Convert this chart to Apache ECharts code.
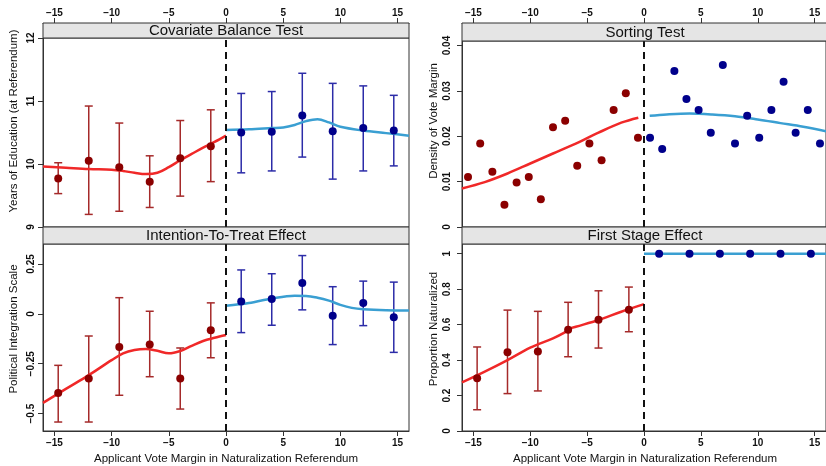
<!DOCTYPE html>
<html>
<head>
<meta charset="utf-8">
<script src="https://cdn.jsdelivr.net/npm/echarts@6/dist/echarts.min.js"></script>
<style>
  html, body { margin: 0; padding: 0; background: #ffffff; }
  #chart { width: 826px; height: 466px; }
</style>
</head>
<body>
<div id="chart"></div>
<script>
// Bin centres of the vote-margin bins (left: below threshold, right: above)
const binLeft = [-14.67, -12, -9.33, -6.67, -4, -1.33];
const binRight = [1.33, 4, 6.67, 9.33, 12, 14.67];

// Covariate balance: years of education
const eduMeanL = [9.77, 10.05, 9.95, 9.72, 10.09, 10.28];
const eduLowL  = [9.53, 9.20, 9.25, 9.31, 9.49, 9.72];
const eduHighL = [10.02, 10.92, 10.65, 10.13, 10.69, 10.86];
const eduMeanR = [10.50, 10.51, 10.77, 10.52, 10.57, 10.53];
const eduLowR  = [9.86, 9.89, 10.11, 9.76, 9.89, 9.97];
const eduHighR = [11.12, 11.15, 11.44, 11.28, 11.24, 11.09];
const eduFitXL = [-16, -14, -12, -10, -9, -8, -7, -6, -5, -4, -3, -2, -1, 0];
const eduFitYL = [9.96, 9.94, 9.92, 9.91, 9.89, 9.86, 9.84, 9.86, 9.95, 10.06, 10.16, 10.26, 10.35, 10.45];
const eduFitXR = [0, 2, 4, 5, 6, 7, 8, 9, 10, 12, 14, 16];
const eduFitYR = [10.54, 10.55, 10.57, 10.58, 10.62, 10.68, 10.71, 10.66, 10.59, 10.53, 10.49, 10.45];

// Intention-to-treat: political integration scale
const ittMeanL = [-0.396, -0.324, -0.166, -0.153, -0.324, -0.082];
const ittLowL  = [-0.542, -0.542, -0.408, -0.315, -0.477, -0.220];
const ittHighL = [-0.258, -0.111, 0.081, 0.013, -0.171, 0.055];
const ittMeanR = [0.062, 0.074, 0.154, -0.010, 0.054, -0.017];
const ittLowR  = [-0.094, -0.057, 0.020, -0.154, -0.059, -0.193];
const ittHighR = [0.220, 0.201, 0.292, 0.136, 0.164, 0.159];
const ittFitXL = [-16, -14, -12, -10, -9, -8, -7, -6, -5, -4, -3, -2, -1, 0];
const ittFitYL = [-0.446, -0.376, -0.307, -0.232, -0.198, -0.181, -0.176, -0.185, -0.198, -0.186, -0.160, -0.136, -0.120, -0.106];
const ittFitXR = [0, 2, 4, 6, 7, 8, 9, 10, 11, 12, 14, 16];
const ittFitYR = [0.040, 0.054, 0.077, 0.091, 0.090, 0.081, 0.066, 0.045, 0.030, 0.023, 0.018, 0.017];

// Sorting test: density of vote margin in narrow bins
const sortBinL = [-15.47, -14.4, -13.33, -12.27, -11.2, -10.13, -9.07, -8, -6.93, -5.87, -4.8, -3.73, -2.67, -1.6, -0.53];
const sortBinR = [0.53, 1.6, 2.67, 3.73, 4.8, 5.87, 6.93, 8, 9.07, 10.13, 11.2, 12.27, 13.33, 14.4, 15.47];
const sortDensL = [0.0110, 0.0184, 0.0122, 0.0049, 0.0098, 0.0110, 0.0061, 0.0220, 0.0234, 0.0135, 0.0184, 0.0147, 0.0258, 0.0295, 0.0197];
const sortDensR = [0.0197, 0.0172, 0.0344, 0.0282, 0.0258, 0.0208, 0.0357, 0.0184, 0.0245, 0.0197, 0.0258, 0.0320, 0.0208, 0.0258, 0.0184];
const sortFitXL = [-16, -14, -12, -10, -8, -6, -4, -2, -0.5];
const sortFitYL = [0.0085, 0.0099, 0.0118, 0.0140, 0.0162, 0.0184, 0.0208, 0.0230, 0.0241];
const sortFitXR = [0.5, 2, 4, 6, 8, 10, 12, 14, 16];
const sortFitYR = [0.0245, 0.0248, 0.0250, 0.0248, 0.0244, 0.0237, 0.0229, 0.0221, 0.0211];

// First stage: proportion naturalized
const fsMeanL = [0.297, 0.444, 0.449, 0.571, 0.628, 0.684];
const fsLowL  = [0.120, 0.211, 0.226, 0.419, 0.468, 0.560];
const fsHighL = [0.474, 0.682, 0.675, 0.726, 0.791, 0.812];
const fsMeanR = [1, 1, 1, 1, 1, 1];
const fsFitXL = [-16, -14, -12, -10, -8, -7, -6.5, -6, -4, -2, 0];
const fsFitYL = [0.274, 0.335, 0.400, 0.470, 0.523, 0.555, 0.578, 0.588, 0.626, 0.673, 0.716];
const fsFitXR = [0, 16];
const fsFitYR = [1, 1];

// Axis ticks and labels
const xTicks = [-15, -10, -5, 0, 5, 10, 15];
const eduTicks = [9, 10, 11, 12];
const ittTicks = [-0.5, -0.25, 0, 0.25];
const sortTicks = [0, 0.01, 0.02, 0.03, 0.04];
const fsTicks = [0, 0.2, 0.4, 0.6, 0.8, 1];

const stripTitles = ['Covariate Balance Test', 'Intention-To-Treat Effect', 'Sorting Test', 'First Stage Effect'];
const yTitles = ['Years of Education (at Referendum)', 'Political Integration Scale', 'Density of Vote Margin', 'Proportion Naturalized'];
const xTitle = 'Applicant Vote Margin in Naturalization Referendum';

// Colours
const RED_PT = '#8b0000', RED_BAR = '#a52a2a', RED_LINE = '#f02828';
const BLUE_PT = '#00008b', BLUE_BAR = '#2c2ca8', BLUE_LINE = '#3a9fd2';
const FRAME = '#333333';

const zip = (xs, ys) => xs.map((x, i) => [x, ys[i]]);
const zip3 = (xs, a, b) => xs.map((x, i) => [x, a[i], b[i]]);
const fmt = v => String(v).replace('-', '\u2212');

// Panel layout (pixels)
const panels = [
  { left: 43,  top: 38,  height: 189, strip: [23, 38],   xTop: true,  ymin: 9,      ymax: 12,     ticks: eduTicks,  lblMargin: 7 },
  { left: 43,  top: 244, height: 187, strip: [227, 244], xTop: false, ymin: -0.587, ymax: 0.35,   ticks: ittTicks,  lblMargin: 7 },
  { left: 462, top: 41,  height: 186, strip: [23, 41],   xTop: true,  ymin: 0,      ymax: 0.0410, ticks: sortTicks, lblMargin: 10 },
  { left: 462, top: 244, height: 187, strip: [227, 244], xTop: false, ymin: 0,      ymax: 1.055,  ticks: fsTicks,   lblMargin: 10 }
];
const PW = 366;

const grid = panels.map(p => ({
  left: p.left, top: p.top, width: PW, height: p.height,
  show: true, borderColor: FRAME, borderWidth: 1, backgroundColor: 'transparent',
  containLabel: false
}));

const xAxis = panels.map((p, i) => ({
  type: 'value', gridIndex: i, min: -16, max: 16,
  position: p.xTop ? 'top' : 'bottom',
  offset: p.xTop ? (p.top - p.strip[0]) : 0,
  axisLine: { show: true, onZero: false, lineStyle: { color: FRAME, width: 1 } },
  axisTick: { show: true, customValues: xTicks, length: 5, lineStyle: { color: FRAME } },
  axisLabel: { show: true, customValues: xTicks, formatter: fmt, margin: p.xTop ? 5 : 7,
               fontFamily: 'Liberation Sans', fontSize: 10, fontWeight: 'bold', color: '#111' },
  splitLine: { show: false }
}));

const yAxis = panels.map((p, i) => ({
  type: 'value', gridIndex: i, min: p.ymin, max: p.ymax,
  axisLine: { show: true, onZero: false, lineStyle: { color: FRAME, width: 1 } },
  axisTick: { show: true, customValues: p.ticks, length: 5, lineStyle: { color: FRAME } },
  axisLabel: { show: true, customValues: p.ticks, formatter: fmt, rotate: 90, margin: p.lblMargin,
               fontFamily: 'Liberation Sans', fontSize: 10, fontWeight: 'bold', color: '#111' },
  splitLine: { show: false }
}));

function errorBars(color) {
  return function (params, api) {
    const x = api.value(0), lo = api.value(1), hi = api.value(2);
    const a = api.coord([x, lo]), b = api.coord([x, hi]);
    const hw = 4;
    const style = { stroke: color, lineWidth: 1.5, fill: null };
    return {
      type: 'group',
      children: [
        { type: 'line', shape: { x1: a[0], y1: a[1], x2: b[0], y2: b[1] }, style },
        { type: 'line', shape: { x1: a[0] - hw, y1: a[1], x2: a[0] + hw, y2: a[1] }, style },
        { type: 'line', shape: { x1: b[0] - hw, y1: b[1], x2: b[0] + hw, y2: b[1] }, style }
      ]
    };
  };
}

const series = [];
function fitLine(g, xs, ys, color) {
  series.push({
    type: 'line', xAxisIndex: g, yAxisIndex: g, data: zip(xs, ys),
    smooth: 0.35, showSymbol: false, symbol: 'none', clip: true, z: 3,
    lineStyle: { color, width: 2.5 }
  });
}
function bars(g, xs, lo, hi, color) {
  series.push({
    type: 'custom', xAxisIndex: g, yAxisIndex: g, data: zip3(xs, lo, hi),
    encode: { x: 0, y: [1, 2] }, renderItem: errorBars(color), z: 2
  });
}
function points(g, xs, ys, color, withCutoff) {
  const s = {
    type: 'scatter', xAxisIndex: g, yAxisIndex: g, data: zip(xs, ys),
    symbol: 'circle', symbolSize: 8, itemStyle: { color, opacity: 1 }, z: 4
  };
  if (withCutoff) {
    s.markLine = {
      silent: true, symbol: ['none', 'none'], label: { show: false },
      lineStyle: { color: '#111', width: 2, type: [7, 5] },
      data: [{ xAxis: 0 }]
    };
  }
  series.push(s);
}

// Covariate balance
fitLine(0, eduFitXL, eduFitYL, RED_LINE);
fitLine(0, eduFitXR, eduFitYR, BLUE_LINE);
bars(0, binLeft, eduLowL, eduHighL, RED_BAR);
bars(0, binRight, eduLowR, eduHighR, BLUE_BAR);
points(0, binLeft, eduMeanL, RED_PT, true);
points(0, binRight, eduMeanR, BLUE_PT, false);

// Intention-to-treat
fitLine(1, ittFitXL, ittFitYL, RED_LINE);
fitLine(1, ittFitXR, ittFitYR, BLUE_LINE);
bars(1, binLeft, ittLowL, ittHighL, RED_BAR);
bars(1, binRight, ittLowR, ittHighR, BLUE_BAR);
points(1, binLeft, ittMeanL, RED_PT, true);
points(1, binRight, ittMeanR, BLUE_PT, false);

// Sorting test
fitLine(2, sortFitXL, sortFitYL, RED_LINE);
fitLine(2, sortFitXR, sortFitYR, BLUE_LINE);
points(2, sortBinL, sortDensL, RED_PT, true);
points(2, sortBinR, sortDensR, BLUE_PT, false);

// First stage
fitLine(3, fsFitXL, fsFitYL, RED_LINE);
fitLine(3, fsFitXR, fsFitYR, BLUE_LINE);
bars(3, binLeft, fsLowL, fsHighL, RED_BAR);
points(3, binLeft, fsMeanL, RED_PT, true);
points(3, binRight, fsMeanR, BLUE_PT, false);

// Strips, axis titles
const graphic = [];
panels.forEach((p, i) => {
  const h = p.strip[1] - p.strip[0];
  graphic.push({
    type: 'rect', z: 100,
    shape: { x: p.left, y: p.strip[0], width: PW, height: h },
    style: { fill: '#e5e5e5', stroke: FRAME, lineWidth: 1 }
  });
  graphic.push({
    type: 'text', z: 101, x: p.left + PW / 2, y: p.strip[0] + h / 2 + 0.5,
    style: { text: stripTitles[i], font: '15px "Liberation Sans"', fill: '#111',
             textAlign: 'center', textVerticalAlign: 'middle' }
  });
  const ty = p.xTop ? 121 : 329;
  graphic.push({
    type: 'text', z: 101, x: i < 2 ? 14 : 433.5, y: ty, rotation: Math.PI / 2,
    style: { text: yTitles[i], font: '11.5px "Liberation Sans"', fill: '#111',
             textAlign: 'center', textVerticalAlign: 'middle' }
  });
  if (!p.xTop) {
    graphic.push({
      type: 'text', z: 101, x: p.left + PW / 2, y: 459,
      style: { text: xTitle, font: '11.5px "Liberation Sans"', fill: '#111',
               textAlign: 'center', textVerticalAlign: 'middle' }
    });
  }
});

const chart = echarts.init(document.getElementById('chart'), null, { renderer: 'canvas' });
chart.setOption({
  animation: false,
  backgroundColor: '#ffffff',
  grid, xAxis, yAxis, series, graphic
});
</script>
</body>
</html>
